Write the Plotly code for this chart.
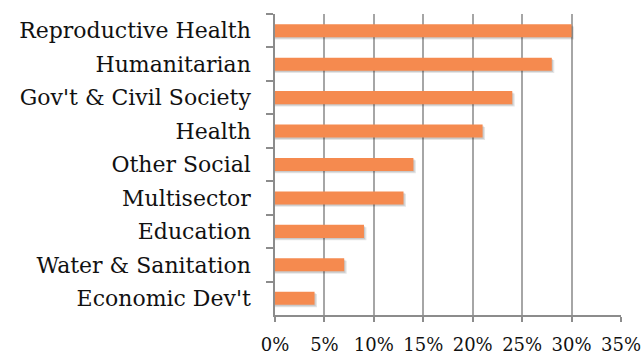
import plotly.graph_objects as go

# Share of funding by sector (percent)
sectors = [
    "Reproductive Health",
    "Humanitarian",
    "Gov't & Civil Society",
    "Health",
    "Other Social",
    "Multisector",
    "Education",
    "Water & Sanitation",
    "Economic Dev't",
]
shares = [30, 28, 24, 21, 14, 13, 9, 7, 4]

tick_vals = [0, 5, 10, 15, 20, 25, 30, 35]
tick_text = ["0%", "5%", "10%", "15%", "20%", "25%", "30%", "35%"]

font_family = "DejaVu Serif"
bar_color = "#F58A4F"
axis_gray = "#8C8C8C"
bar_width = 0.39

fig = go.Figure()

# soft drop shadow beneath each bar (two faint layers)
for dx, dy, alpha in [(0.25, 0.07, 0.10), (0.12, 0.04, 0.12)]:
    fig.add_trace(go.Bar(
        y=sectors,
        x=[v + dx for v in shares],
        orientation="h",
        width=bar_width,
        offset=-bar_width / 2 + dy,
        marker=dict(color=f"rgba(0,0,0,{alpha})", line=dict(width=0)),
        hoverinfo="skip",
    ))

fig.add_trace(go.Bar(
    y=sectors,
    x=shares,
    orientation="h",
    width=bar_width,
    offset=-bar_width / 2,
    marker=dict(color=bar_color, line=dict(width=0)),
    hovertemplate="%{y}: %{x}%<extra></extra>",
))

fig.update_layout(
    width=643,
    height=360,
    margin=dict(l=275, r=22, t=14, b=45),
    paper_bgcolor="white",
    plot_bgcolor="white",
    showlegend=False,
    barmode="overlay",
    font=dict(family=font_family, size=22, color="#111111"),
)

fig.update_xaxes(
    range=[0, 35],
    tickvals=tick_vals,
    ticktext=tick_text,
    showgrid=True,
    gridcolor="#A6A6A6",
    gridwidth=1.5,
    showline=True,
    linecolor=axis_gray,
    linewidth=1.5,
    ticks="outside",
    ticklen=5,
    tickcolor=axis_gray,
    tickwidth=1.5,
    ticklabelstandoff=8,
    zeroline=False,
    automargin=False,
    tickfont=dict(family=font_family, size=18),
)

fig.update_yaxes(
    autorange="reversed",
    type="category",
    showline=True,
    linecolor=axis_gray,
    linewidth=1.5,
    ticks="outside",
    tickson="boundaries",
    ticklen=7,
    tickcolor=axis_gray,
    tickwidth=1.5,
    ticklabelstandoff=18,
    showgrid=False,
    automargin=False,
    tickfont=dict(family=font_family, size=22),
)

fig.write_html("out.html")
